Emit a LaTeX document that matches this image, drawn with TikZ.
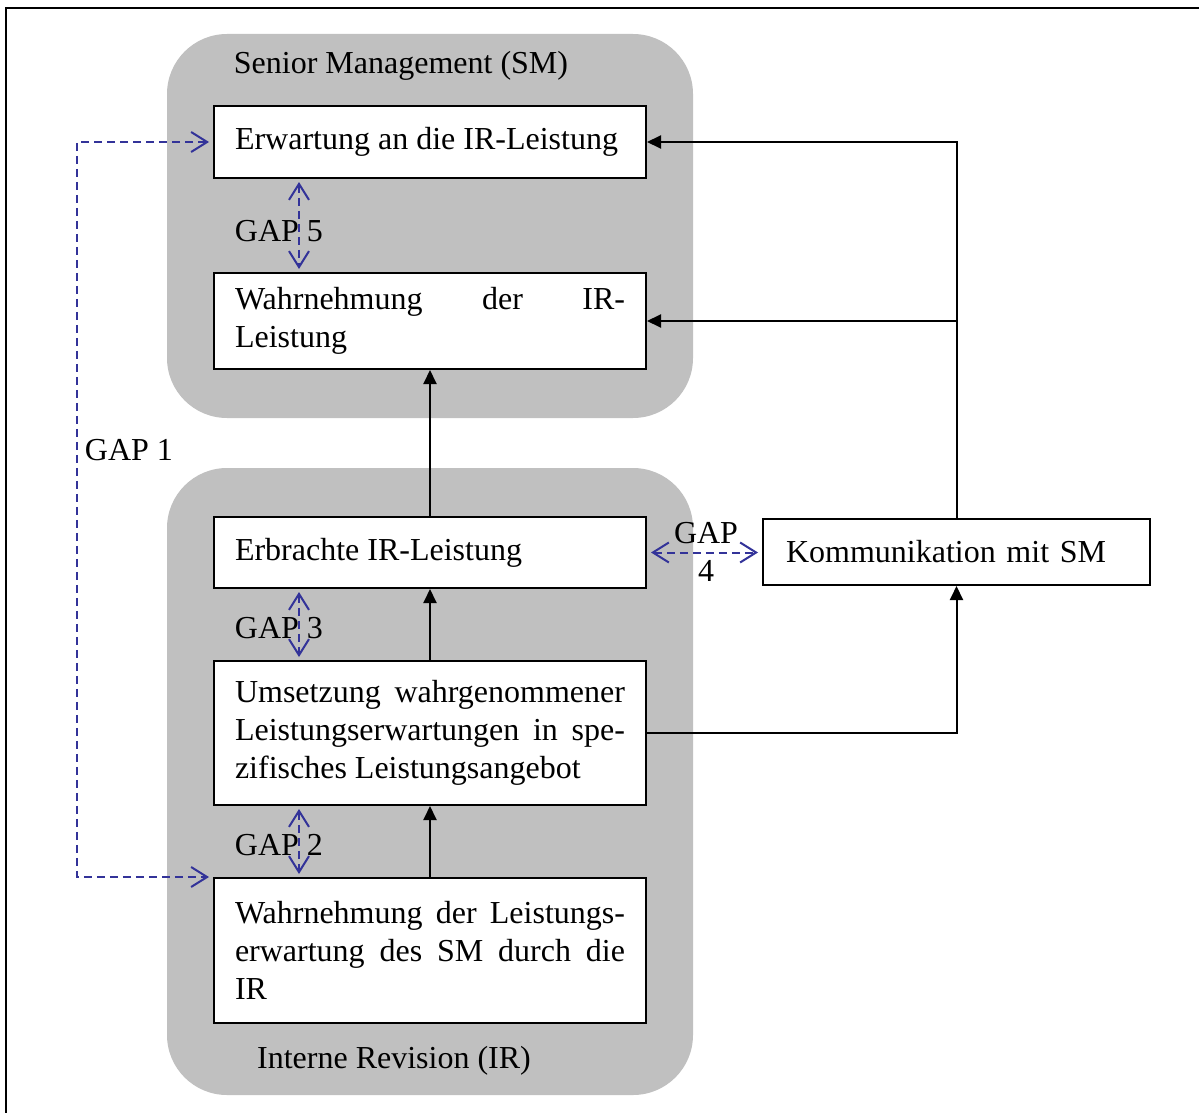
\documentclass[tikz,border=0pt]{standalone}
\usepackage{fontspec}
\setmainfont{Liberation Serif}
\usetikzlibrary{arrows.meta}
\definecolor{panelgray}{RGB}{192,192,192}
\definecolor{gapblue}{RGB}{51,51,153}
\begin{document}
\begin{tikzpicture}[x=0.5pt,y=-0.5pt,
  txt/.style={font=\fontsize{16}{19}\selectfont},
  panel/.style={fill=panelgray, draw=none, rounded corners=30pt},
  box/.style={txt, draw=black, line width=1pt, fill=white, text width=195pt, inner xsep=10.5pt, inner ysep=0pt, align=justify, minimum width=216pt},
  conn/.style={line width=1pt, -{Triangle[length=7pt,width=6.5pt]}},
  gaparrow/.style={draw=gapblue, line width=1pt, dash pattern=on 4pt off 2.5pt, {Straight Barb[length=8pt,width=10pt]}-{Straight Barb[length=8pt,width=10pt]}, shorten <=1.5pt, shorten >=1.5pt},
  lbl/.style={txt, inner sep=0pt}]
\useasboundingbox (0,0) rectangle (1199,1113);
\clip (0,0) rectangle (1199,1113);
\draw[line width=1.3pt] (6,8) rectangle (1240,1150);
\path[panel] (167,34) rectangle (693,418);
\path[panel] (167,468) rectangle (693,1095);
\node[lbl] (smtitle) at (401,66) {Senior Management (SM)};
\node[lbl] (irtitle) at (394,1061) {Interne Revision (IR)};
\node[box, minimum height=36pt] (b1) at (430,142) {Erwartung an die IR-Leistung};
\node[box, minimum height=48pt] (b2) at (430,321) {Wahrnehmung der IR-\linebreak Leistung};
\node[box, minimum height=35.5pt] (b3) at (430,552.5) {Erbrachte IR-Leistung};
\node[box, minimum height=72pt] (b4) at (430,733) {Umsetzung wahrgenommener\linebreak Leistungserwartungen in spe-\linebreak zifisches Leistungsangebot};
\node[box, minimum height=72.5pt] (b5) at (430,950.5) {Wahrnehmung der Leistungs-\linebreak erwartung des SM durch die\linebreak IR};
\node[txt, draw=black, line width=1pt, fill=white, text width=170.5pt, inner xsep=11.5pt, minimum height=33pt, align=left] (b6) at (956.5,552) {Kommunikation mit SM};
\draw[conn] (b5.north) -- (b4.south);
\draw[conn] (b4.north) -- (b3.south);
\draw[conn] (b3.north) -- (b2.south);
\draw[conn] (b4.east) -| (b6.south);
\draw[conn] (b6.north) |- (b1.east);
\coordinate (jn) at (b6.north |- b2.east);
\draw[conn] (jn) -- (b2.east);
\coordinate (gx) at (299,0);
\coordinate (g1) at (77,0);
\node[lbl] (gap5) at (279,231) {GAP 5};
\draw[gaparrow] (b1.south -| gx) -- (b2.north -| gx);
\node[lbl] (gap3) at (279,628) {GAP 3};
\draw[gaparrow] (b3.south -| gx) -- (b4.north -| gx);
\node[lbl] (gap2) at (279,845) {GAP 2};
\draw[gaparrow] (b4.south -| gx) -- (b5.north -| gx);
\node[lbl, align=center] (gap4) at (706,552) {GAP\\4};
\draw[gaparrow, shorten <=2pt, shorten >=2pt] (b3.east) -- (b6.west |- b3.east);
\node[lbl] (gap1) at (129,450) {GAP 1};
\draw[gaparrow, shorten <=2pt, shorten >=2pt] (b1.west) -- (b1.west -| g1) -- (b5.north west -| g1) -- (b5.north west);
\end{tikzpicture}
\end{document}
